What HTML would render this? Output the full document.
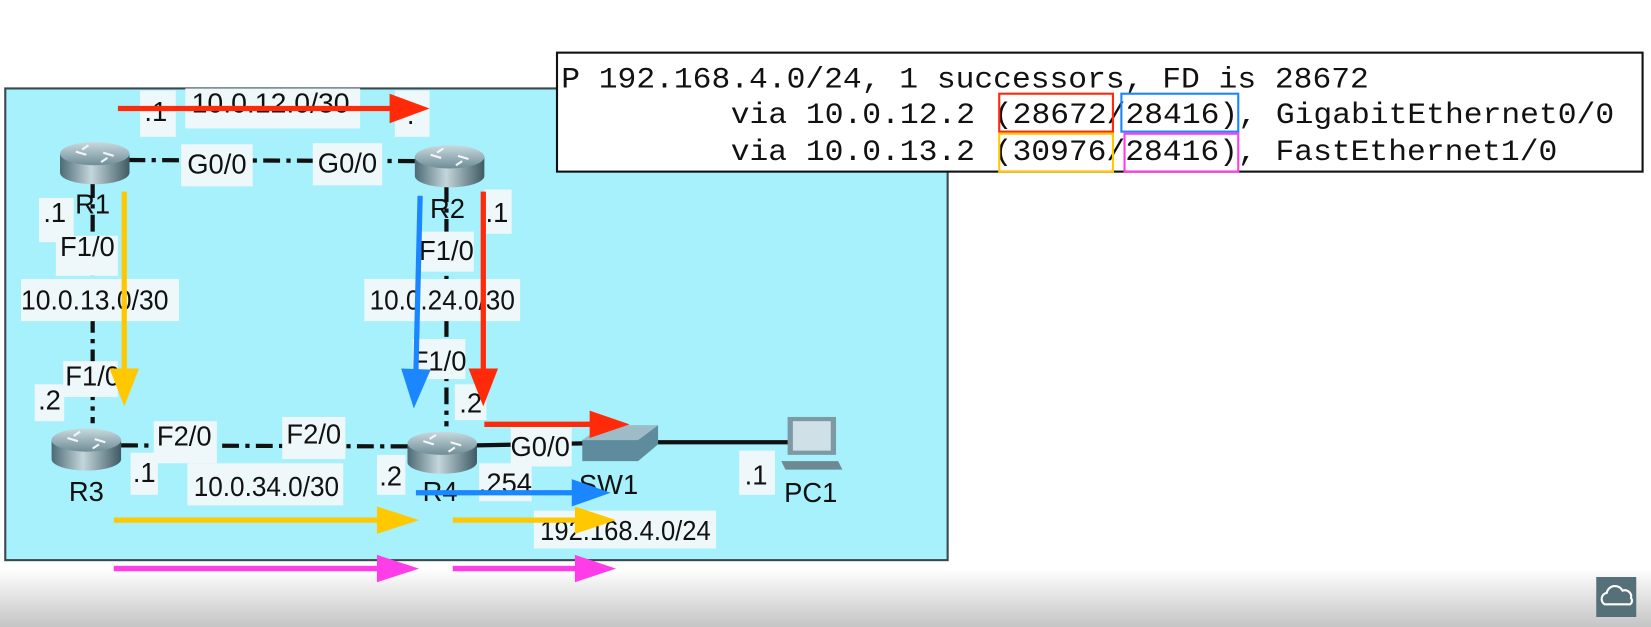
<!DOCTYPE html>
<html><head><meta charset="utf-8"><style>
html,body{margin:0;padding:0;background:#fff;width:1651px;height:627px;overflow:hidden}
svg{display:block}
.l{font-family:"Liberation Sans",sans-serif;font-size:26px;fill:#111;text-anchor:middle}
.m{font-family:"Liberation Mono",monospace;font-size:28px;fill:#111}
</style></head><body>
<svg width="1651" height="627" viewBox="0 0 1568 595.5" preserveAspectRatio="none" xmlns="http://www.w3.org/2000/svg">
<defs>
<linearGradient id="bg" x1="0" y1="0" x2="0" y2="1">
<stop offset="0" stop-color="#ffffff"/><stop offset="1" stop-color="#c4c4c4"/></linearGradient>
<linearGradient id="rt" x1="0" y1="0" x2="0" y2="1">
<stop offset="0" stop-color="#c9d9de"/><stop offset="1" stop-color="#6f8d97"/></linearGradient>
<linearGradient id="rb" x1="0" y1="0" x2="1" y2="0">
<stop offset="0" stop-color="#4d6a74"/><stop offset=".45" stop-color="#c4d6dc"/><stop offset="1" stop-color="#3f5a63"/></linearGradient>
<g id="router">
<path d="M-33 -6 L-33 12 A33 11 0 0 0 33 12 L33 -6 Z" fill="url(#rb)"/>
<ellipse cx="0" cy="-6" rx="33" ry="11" fill="url(#rt)"/>
<path d="M-18 -8 l10 3 M18 -4 l-10 -3 M-6 -14 l-6 4 M6 2 l6 -4" stroke="#f2f6f8" stroke-width="2"/>
</g>
</defs>
<rect x="0" y="540" width="1568" height="56" fill="url(#bg)"/>
<rect x="5" y="84" width="895" height="448" fill="#a6f1fb" stroke="#3a4a4c" stroke-width="2"/>

<!-- links -->
<g stroke="#111" stroke-width="4" stroke-dasharray="16 6 4 6">
<line x1="122" y1="152" x2="395" y2="153"/>
<line x1="88" y1="172" x2="88" y2="402"/>
<line x1="424" y1="176" x2="424" y2="405"/>
<line x1="115" y1="423" x2="390" y2="424"/>
</g>
<line x1="452" y1="423" x2="560" y2="421" stroke="#111" stroke-width="4"/>
<line x1="618" y1="420" x2="752" y2="420" stroke="#111" stroke-width="4"/>

<!-- labels -->
<g fill="#eef7fa">
<rect x="176" y="84" width="166" height="38"/><rect x="133" y="86" width="34" height="44"/><rect x="375" y="86" width="33" height="44"/>
<rect x="172" y="137" width="68" height="40"/><rect x="297" y="136" width="66" height="40"/>
<rect x="37" y="188" width="33" height="42"/><rect x="53" y="224" width="59" height="38"/><rect x="20" y="265" width="150" height="40"/>
<rect x="60" y="343" width="52" height="34"/><rect x="33" y="365" width="28" height="35"/>
<rect x="146" y="400" width="60" height="40"/><rect x="124" y="430" width="26" height="40"/><rect x="268" y="396" width="60" height="40"/>
<rect x="178" y="440" width="148" height="40"/><rect x="358" y="432" width="27" height="38"/>
<rect x="455" y="440" width="50" height="36"/><rect x="485" y="405" width="58" height="38"/>
<rect x="702" y="428" width="34" height="42"/><rect x="507" y="485" width="173" height="36"/>
<rect x="460" y="180" width="26" height="42"/><rect x="398" y="220" width="52" height="38"/><rect x="346" y="265" width="148" height="40"/>
<rect x="392" y="322" width="50" height="38"/><rect x="432" y="365" width="30" height="34"/>
</g>
<g class="l" transform="translate(0,3)">
<text x="257" y="104" textLength="150" lengthAdjust="spacingAndGlyphs">10.0.12.0/30</text><text x="148" y="112">.1</text><text x="390" y="115">.</text>
<text x="206" y="162">G0/0</text><text x="330" y="161">G0/0</text>
<text x="88" y="200">R1</text><text x="52" y="208">.1</text><text x="83" y="240">F1/0</text><text x="90" y="291" textLength="140" lengthAdjust="spacingAndGlyphs">10.0.13.0/30</text>
<text x="88" y="363">F1/0</text><text x="47" y="386">.2</text>
<text x="175" y="420">F2/0</text><text x="137" y="455">.1</text><text x="298" y="418">F2/0</text>
<text x="82" y="473">R3</text><text x="253" y="468" textLength="138" lengthAdjust="spacingAndGlyphs">10.0.34.0/30</text><text x="371" y="458">.2</text>
<text x="418" y="473">R4</text><text x="480" y="465">.254</text><text x="513" y="430">G0/0</text>
<text x="578" y="466">SW1</text><text x="718" y="457">.1</text><text x="770" y="474">PC1</text>
<text x="594" y="510" textLength="162" lengthAdjust="spacingAndGlyphs">192.168.4.0/24</text>
<text x="425" y="204">R2</text><text x="472" y="208">.1</text><text x="424" y="244">F1/0</text><text x="420" y="291" textLength="138" lengthAdjust="spacingAndGlyphs">10.0.24.0/30</text>
<text x="417" y="349">F1/0</text><text x="447" y="389">.2</text>
</g>

<!-- devices -->
<use href="#router" x="90" y="152"/>
<use href="#router" x="427" y="155"/>
<use href="#router" x="82" y="424"/>
<use href="#router" x="420" y="427"/>
<path d="M553 418 L573 404 L625 404 L625 422 L606 438 L553 438 Z" fill="#5f8c9c"/>
<path d="M553 418 L573 404 L625 404 L606 418 Z" fill="#9dbcc7"/>
<rect x="748" y="396" width="46" height="36" fill="#7c99a4"/><rect x="753" y="400" width="36" height="28" fill="#cfe0e6"/>
<path d="M742 438 L796 438 L800 446 L746 446 Z" fill="#6d8994"/>

<!-- arrows -->
<g stroke-width="5" fill="none">
<line x1="112" y1="103" x2="372" y2="103" stroke="#ff2a0a"/>
<line x1="118" y1="182" x2="118" y2="352" stroke="#ffc800"/>
<line x1="399" y1="186" x2="395" y2="352" stroke="#1a86ff"/>
<line x1="459" y1="182" x2="459" y2="352" stroke="#ff2a0a"/>
<line x1="460" y1="403" x2="562" y2="403" stroke="#ff2a0a"/>
<line x1="395" y1="468" x2="545" y2="468" stroke="#1a86ff"/>
<line x1="108" y1="494" x2="360" y2="494" stroke="#ffc800"/>
<line x1="430" y1="494" x2="548" y2="494" stroke="#ffc800"/>
<line x1="108" y1="540" x2="360" y2="540" stroke="#ff3de8"/>
<line x1="430" y1="540" x2="548" y2="540" stroke="#ff3de8"/>
</g>
<polygon points="370,89 408,103 370,117" fill="#ff2a0a"/>
<polygon points="104,350 132,350 118,386" fill="#ffc800"/>
<polygon points="381,350 409,351 393,388" fill="#1a86ff"/>
<polygon points="445,350 473,350 459,386" fill="#ff2a0a"/>
<polygon points="560,390 598,403 560,416" fill="#ff2a0a"/>
<polygon points="543,455 580,468 543,481" fill="#1a86ff"/>
<polygon points="358,481 398,494 358,507" fill="#ffc800"/>
<polygon points="546,481 585,494 546,507" fill="#ffc800"/>
<polygon points="358,527 398,540 358,553" fill="#ff3de8"/>
<polygon points="546,527 585,540 546,553" fill="#ff3de8"/>

<!-- text box -->
<rect x="529" y="50" width="1031" height="113" fill="#fff" stroke="#111" stroke-width="2"/>
<text class="m" x="533" y="83" textLength="767" lengthAdjust="spacingAndGlyphs">P 192.168.4.0/24, 1 successors, FD is 28672</text>
<text class="m" x="694" y="117" textLength="839" lengthAdjust="spacingAndGlyphs">via 10.0.12.2 (28672/28416), GigabitEthernet0/0</text>
<text class="m" x="694" y="152" textLength="785" lengthAdjust="spacingAndGlyphs">via 10.0.13.2 (30976/28416), FastEthernet1/0</text>
<g fill="none" stroke-width="2">
<rect x="949" y="89" width="108" height="36" stroke="#ff2a0a"/>
<rect x="1065" y="89" width="111" height="36" stroke="#1a86ff"/>
<rect x="949" y="127" width="108" height="36" stroke="#ffc800"/>
<rect x="1068" y="127" width="108" height="36" stroke="#ff3de8"/>
</g>

<!-- corner icon -->
<rect x="1516" y="548" width="38" height="38" fill="#56707a"/>
<path d="M1524 574 a6 6 0 0 1 2 -11 a8 8 0 0 1 15 -2 a6 6 0 0 1 8 7 a4 4 0 0 1 -1 6 Z" fill="none" stroke="#fff" stroke-width="2"/>
</svg>
</body></html>
